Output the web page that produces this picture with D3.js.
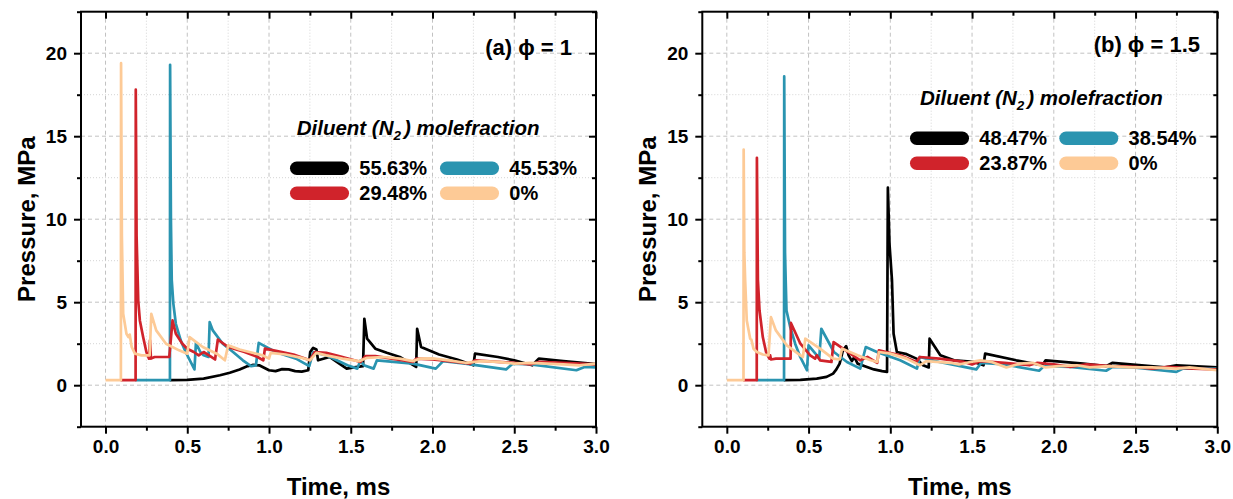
<!DOCTYPE html>
<html>
<head>
<meta charset="utf-8">
<script src="https://cdn.jsdelivr.net/npm/d3@7"></script>
<style>
  html, body { margin: 0; padding: 0; background: #fff; }
  svg { display: block; font-family: Arial, "Liberation Sans", sans-serif; }
</style>
</head>
<body>
<svg id="chart" width="1233" height="499"></svg>
<script>
// ---------------- DATA ----------------
const xTicks = [0, 0.5, 1.0, 1.5, 2.0, 2.5, 3.0];
const xTickLabels = ["0.0", "0.5", "1.0", "1.5", "2.0", "2.5", "3.0"];
const yTicks = [0, 5, 10, 15, 20];
const yTickLabels = ["0", "5", "10", "15", "20"];
const xDomain = [-0.15, 3];
const yDomain = [-2.5, 22.5];

const panelTitles = ["(a) \u03D5 = 1", "(b) \u03D5 = 1.5"];
const xTitle = "Time, ms";
const yTitle = "Pressure, MPa";

// Panel (a) phi = 1 : [time ms, pressure MPa] (visible portions)
const labelsA = ["55.63%", "45.53%", "29.48%", "0%"];
const blackA = [[0.392,0.3],[0.5,0.32],[0.6,0.4],[0.7,0.6],[0.76,0.75],[0.82,0.95],[0.87,1.15],[0.9,1.22],[0.94,1.2],[0.97,1.05],[1.0,0.9],[1.04,0.85],[1.08,0.97],[1.12,0.95],[1.16,0.85],[1.2,0.82],[1.24,0.9],[1.252,2.0],[1.27,2.25],[1.29,2.15],[1.3,1.5],[1.37,1.7],[1.43,1.3],[1.475,1.0],[1.52,1.07],[1.575,1.15],[1.583,4.0],[1.6,2.8],[1.65,2.2],[1.72,1.95],[1.8,1.7],[1.9,1.1],[1.906,3.4],[1.93,2.3],[2.04,1.85],[2.15,1.55],[2.25,1.2],[2.26,1.9],[2.4,1.7],[2.5,1.5],[2.61,1.2],[2.65,1.6],[2.8,1.45],[3.0,1.27]];
const tealA = [[0.182,0.3],[0.394,0.3],[0.395,19.3],[0.4,10],[0.405,6.35],[0.415,4.9],[0.43,3.7],[0.46,2.7],[0.49,2.0],[0.544,0.95],[0.553,2.55],[0.58,2.0],[0.6,1.8],[0.63,1.7],[0.637,3.8],[0.656,3.3],[0.717,2.5],[0.78,2.0],[0.84,1.5],[0.89,1.15],[0.92,1.2],[0.937,2.55],[1.04,2.0],[1.165,1.6],[1.246,1.15],[1.27,2.0],[1.35,1.8],[1.48,1.2],[1.54,1.0],[1.56,1.5],[1.58,1.2],[1.64,1.0],[1.66,1.5],[1.88,1.3],[2.02,1.0],[2.065,1.45],[2.2,1.3],[2.45,0.95],[2.49,1.3],[2.6,1.25],[2.88,0.9],[2.93,1.1],[3.0,1.07]];
const redA = [[0.092,0.3],[0.184,0.3],[0.185,17.8],[0.19,9],[0.2,5.1],[0.21,3.9],[0.23,2.9],[0.25,2.0],[0.266,1.6],[0.272,2.7],[0.278,1.6],[0.3,1.7],[0.39,1.7],[0.41,3.9],[0.43,3.1],[0.47,2.5],[0.5,2.2],[0.54,2.0],[0.57,1.8],[0.6,2.0],[0.64,1.75],[0.67,1.55],[0.687,2.75],[0.75,2.3],[0.85,2.0],[0.93,1.7],[0.965,1.5],[0.975,2.2],[1.05,2.05],[1.15,1.85],[1.25,1.5],[1.28,2.0],[1.35,1.95],[1.45,1.7],[1.56,1.4],[1.59,1.75],[1.65,1.75],[1.75,1.6],[1.88,1.4],[1.9,1.6],[2.0,1.55],[2.1,1.45],[2.23,1.3],[2.26,1.5],[2.4,1.4],[2.5,1.35],[2.6,1.25],[2.65,1.4],[2.8,1.35],[3.0,1.25]];
const peachA = [[0,0.3],[0.094,0.3],[0.095,19.4],[0.1,9],[0.108,4.3],[0.128,3.1],[0.14,2.9],[0.148,3.05],[0.16,2.3],[0.18,1.9],[0.22,1.8],[0.27,1.8],[0.28,4.3],[0.31,3.3],[0.37,2.5],[0.45,2.1],[0.5,1.9],[0.514,2.9],[0.595,2.3],[0.68,1.9],[0.73,1.5],[0.75,2.4],[0.82,2.15],[0.88,2.0],[0.96,1.8],[1.0,1.6],[1.01,1.95],[1.1,1.85],[1.2,1.65],[1.25,1.5],[1.29,1.95],[1.35,1.8],[1.45,1.6],[1.55,1.45],[1.6,1.65],[1.7,1.7],[1.8,1.6],[1.88,1.45],[1.92,1.6],[2.0,1.62],[2.1,1.5],[2.2,1.35],[2.3,1.45],[2.4,1.4],[2.5,1.3],[2.6,1.35],[2.7,1.3],[2.8,1.25],[2.9,1.2],[3.0,1.3]];

// Panel (b) phi = 1.5
const labelsB = ["48.47%", "38.54%", "23.87%", "0%"];
const blackB = [[0.348,0.3],[0.45,0.32],[0.55,0.4],[0.61,0.5],[0.65,0.7],[0.67,0.95],[0.69,1.3],[0.71,2.1],[0.73,2.35],[0.745,1.8],[0.765,1.45],[0.78,1.7],[0.8,1.3],[0.857,1.1],[0.9,0.95],[0.95,0.85],[0.98,0.8],[0.985,11.9],[0.995,8.5],[1.01,6.35],[1.02,3.1],[1.04,2.0],[1.1,1.87],[1.16,1.6],[1.2,1.2],[1.235,1.07],[1.24,2.8],[1.26,2.5],[1.306,1.8],[1.39,1.5],[1.51,1.4],[1.57,1.2],[1.58,1.9],[1.77,1.5],[1.93,1.2],[1.95,1.5],[2.18,1.3],[2.32,1.15],[2.36,1.35],[2.68,1.07],[2.75,1.2],[3.0,1.07]];
const tealB = [[0.181,0.3],[0.35,0.3],[0.351,18.6],[0.356,8],[0.36,6.35],[0.365,4.5],[0.388,3.5],[0.418,2.5],[0.449,1.7],[0.49,0.9],[0.5,2.4],[0.551,1.8],[0.565,1.6],[0.578,3.4],[0.655,2.0],[0.735,1.4],[0.816,1.0],[0.85,2.3],[0.918,2.0],[1.06,1.5],[1.163,1.0],[1.18,1.7],[1.3,1.4],[1.45,1.1],[1.526,0.95],[1.557,1.35],[1.7,1.25],[1.91,0.87],[1.94,1.15],[2.1,1.1],[2.32,0.87],[2.36,1.1],[2.5,1.05],[2.75,0.8],[2.79,1.0],[3.0,1.0]];
const redB = [[0.1,0.3],[0.183,0.3],[0.184,13.7],[0.19,6.35],[0.2,4.5],[0.22,2.9],[0.24,2.0],[0.26,1.6],[0.265,1.8],[0.27,1.55],[0.3,1.6],[0.39,1.6],[0.392,3.75],[0.45,2.5],[0.51,1.8],[0.54,1.6],[0.55,1.8],[0.57,1.5],[0.64,1.4],[0.653,2.6],[0.755,1.9],[0.816,1.5],[0.86,1.7],[0.92,1.35],[0.93,2.1],[1.06,1.8],[1.16,1.4],[1.18,1.7],[1.3,1.6],[1.45,1.4],[1.5,1.25],[1.55,1.45],[1.7,1.35],[1.85,1.2],[1.9,1.35],[2.0,1.25],[2.1,1.1],[2.2,1.25],[2.35,1.15],[2.5,1.1],[2.6,1.0],[2.7,1.1],[2.85,1.0],[3.0,0.95]];
const peachB = [[0,0.3],[0.102,0.3],[0.103,14.2],[0.107,8],[0.112,6.35],[0.122,3.9],[0.143,2.8],[0.15,2.75],[0.163,2.2],[0.184,2.0],[0.22,1.85],[0.255,1.8],[0.27,4.1],[0.3,3.3],[0.367,2.4],[0.45,1.8],[0.465,1.7],[0.48,2.8],[0.57,2.2],[0.65,1.6],[0.69,1.55],[0.705,2.2],[0.8,1.8],[0.88,1.5],[0.92,1.4],[0.93,2.0],[1.0,1.9],[1.1,1.6],[1.18,1.2],[1.22,1.45],[1.364,1.35],[1.42,1.25],[1.49,1.4],[1.55,1.5],[1.62,1.4],[1.71,1.07],[1.79,1.3],[1.87,1.35],[1.95,1.07],[2.03,1.15],[2.14,1.2],[2.22,1.07],[2.34,1.15],[2.46,1.07],[2.6,1.07],[2.75,1.0],[2.83,1.07],[3.0,0.9]];

const colors = { black: "#000000", teal: "#2a94b0", red: "#d0232b", peach: "#fdca96" };

// ---------------- LAYOUT ----------------
const svg = d3.select("#chart");
const FONT = "Arial, 'Liberation Sans', sans-serif";

const panels = [
  { x0: 81, x1: 596, y0: 11.7, y1: 426.7, title: panelTitles[0], titleX: 572, titleY: 55,
    series: [ {d: blackA, c: colors.black}, {d: tealA, c: colors.teal}, {d: redA, c: colors.red}, {d: peachA, c: colors.peach} ],
    legend: { tx: 296.7, ty: 135, sx: [290, 440], rows: [168.3, 193.3],
      items: [ {c: colors.black, l: labelsA[0]}, {c: colors.teal, l: labelsA[1]}, {c: colors.red, l: labelsA[2]}, {c: colors.peach, l: labelsA[3]} ] },
    yTitleX: 35 },
  { x0: 702.3, x1: 1217.3, y0: 11.7, y1: 426.7, title: panelTitles[1], titleX: 1200, titleY: 52,
    series: [ {d: blackB, c: colors.black}, {d: tealB, c: colors.teal}, {d: redB, c: colors.red}, {d: peachB, c: colors.peach} ],
    legend: { tx: 920, ty: 105, sx: [910, 1059.3], rows: [138.3, 163.3],
      items: [ {c: colors.black, l: labelsB[0]}, {c: colors.teal, l: labelsB[1]}, {c: colors.red, l: labelsB[2]}, {c: colors.peach, l: labelsB[3]} ] },
    yTitleX: 656 }
];

panels.forEach(p => {
  const x = d3.scaleLinear().domain(xDomain).range([p.x0, p.x1]);
  const y = d3.scaleLinear().domain(yDomain).range([p.y1, p.y0]);
  const g = svg.append("g");

  const xMinor = d3.range(0.25, 3, 0.5);
  const yMinor = [-2.5, 2.5, 7.5, 12.5, 17.5, 22.5];

  // grid
  const grid = g.append("g");
  grid.selectAll(".gxm").data(xMinor).join("line")
    .attr("x1", d => x(d)).attr("x2", d => x(d)).attr("y1", p.y0).attr("y2", p.y1)
    .attr("stroke", "#d4d4d4").attr("stroke-width", 1).attr("stroke-dasharray", "1,2");
  grid.selectAll(".gym").data(yMinor.filter(v => v > -2.5 && v < 22.5)).join("line")
    .attr("y1", d => y(d)).attr("y2", d => y(d)).attr("x1", p.x0).attr("x2", p.x1)
    .attr("stroke", "#d4d4d4").attr("stroke-width", 1).attr("stroke-dasharray", "1,2");
  grid.selectAll(".gx").data(xTicks.filter(v => v < 3)).join("line")
    .attr("x1", d => x(d)).attr("x2", d => x(d)).attr("y1", p.y0).attr("y2", p.y1)
    .attr("stroke", "#c2c2c2").attr("stroke-width", 1).attr("stroke-dasharray", "4,3");
  grid.selectAll(".gy").data(yTicks).join("line")
    .attr("y1", d => y(d)).attr("y2", d => y(d)).attr("x1", p.x0).attr("x2", p.x1)
    .attr("stroke", "#c2c2c2").attr("stroke-width", 1).attr("stroke-dasharray", "4,3");

  // lines
  const line = d3.line().x(d => x(d[0])).y(d => y(d[1]));
  p.series.forEach(s => {
    g.append("path").datum(s.d).attr("d", line)
      .attr("fill", "none").attr("stroke", s.c).attr("stroke-width", 2.7)
      .attr("stroke-linejoin", "round").attr("stroke-linecap", "butt");
  });

  // axes (bottom/left outward, top/right inward)
  const fmtX = (d) => xTickLabels[xTicks.indexOf(d)];
  const fmtY = (d) => yTickLabels[yTicks.indexOf(d)];
  const axB = g.append("g").attr("transform", `translate(0,${p.y1})`)
    .call(d3.axisBottom(x).tickValues(xTicks).tickFormat(fmtX).tickSize(7).tickSizeOuter(0).tickPadding(6));
  const axBm = g.append("g").attr("transform", `translate(0,${p.y1})`)
    .call(d3.axisBottom(x).tickValues(xMinor).tickFormat("").tickSize(4).tickSizeOuter(0));
  const axT = g.append("g").attr("transform", `translate(0,${p.y0})`)
    .call(d3.axisBottom(x).tickValues(xTicks).tickFormat("").tickSize(7).tickSizeOuter(0));
  const axTm = g.append("g").attr("transform", `translate(0,${p.y0})`)
    .call(d3.axisBottom(x).tickValues(xMinor).tickFormat("").tickSize(4).tickSizeOuter(0));
  const axL = g.append("g").attr("transform", `translate(${p.x0},0)`)
    .call(d3.axisLeft(y).tickValues(yTicks).tickFormat(fmtY).tickSize(7).tickSizeOuter(0).tickPadding(7));
  const axLm = g.append("g").attr("transform", `translate(${p.x0},0)`)
    .call(d3.axisLeft(y).tickValues(yMinor).tickFormat("").tickSize(4).tickSizeOuter(0));
  const axR = g.append("g").attr("transform", `translate(${p.x1},0)`)
    .call(d3.axisLeft(y).tickValues(yTicks).tickFormat("").tickSize(7).tickSizeOuter(0));
  const axRm = g.append("g").attr("transform", `translate(${p.x1},0)`)
    .call(d3.axisLeft(y).tickValues(yMinor).tickFormat("").tickSize(4).tickSizeOuter(0));
  [axB, axBm, axT, axTm, axL, axLm, axR, axRm].forEach(a => {
    a.select(".domain").remove();
    a.selectAll(".tick line").attr("stroke", "#000").attr("stroke-width", 2);
    a.selectAll("text").attr("font-family", FONT).attr("font-weight", "bold")
      .attr("font-size", 19).attr("fill", "#000");
  });

  // frame
  g.append("rect").attr("x", p.x0).attr("y", p.y0)
    .attr("width", p.x1 - p.x0).attr("height", p.y1 - p.y0)
    .attr("fill", "none").attr("stroke", "#000").attr("stroke-width", 2);

  // axis titles
  g.append("text").attr("x", (p.x0 + p.x1) / 2).attr("y", 495)
    .attr("text-anchor", "middle").attr("font-family", FONT).attr("font-weight", "bold")
    .attr("font-size", 24).text(xTitle);
  g.append("text").attr("transform", `translate(${p.yTitleX},${(p.y0 + p.y1) / 2}) rotate(-90)`)
    .attr("text-anchor", "middle").attr("font-family", FONT).attr("font-weight", "bold")
    .attr("font-size", 24).text(yTitle);

  // panel title
  g.append("text").attr("x", p.titleX).attr("y", p.titleY).attr("text-anchor", "end")
    .attr("font-family", FONT).attr("font-weight", "bold").attr("font-size", 22).text(p.title);

  // legend
  const L = p.legend;
  const lt = g.append("text").attr("x", L.tx).attr("y", L.ty)
    .attr("font-family", FONT).attr("font-weight", "bold").attr("font-style", "italic")
    .attr("font-size", 20.5);
  lt.append("tspan").text("Diluent (N");
  lt.append("tspan").attr("font-size", 13.5).attr("dy", 5).text("2");
  lt.append("tspan").attr("dy", -5).attr("dx", 3).text(") molefraction");

  L.items.forEach((it, i) => {
    const col = i % 2, row = Math.floor(i / 2);
    const sx = L.sx[col], cy = L.rows[row];
    g.append("line").attr("x1", sx + 6.7).attr("x2", sx + 59 - 6.7).attr("y1", cy).attr("y2", cy)
      .attr("stroke", it.c).attr("stroke-width", 13.4).attr("stroke-linecap", "round");
    g.append("text").attr("x", sx + 69.3).attr("y", cy + 6.9)
      .attr("font-family", FONT).attr("font-weight", "bold").attr("font-size", 20).text(it.l);
  });
});
</script>
</body>
</html>
